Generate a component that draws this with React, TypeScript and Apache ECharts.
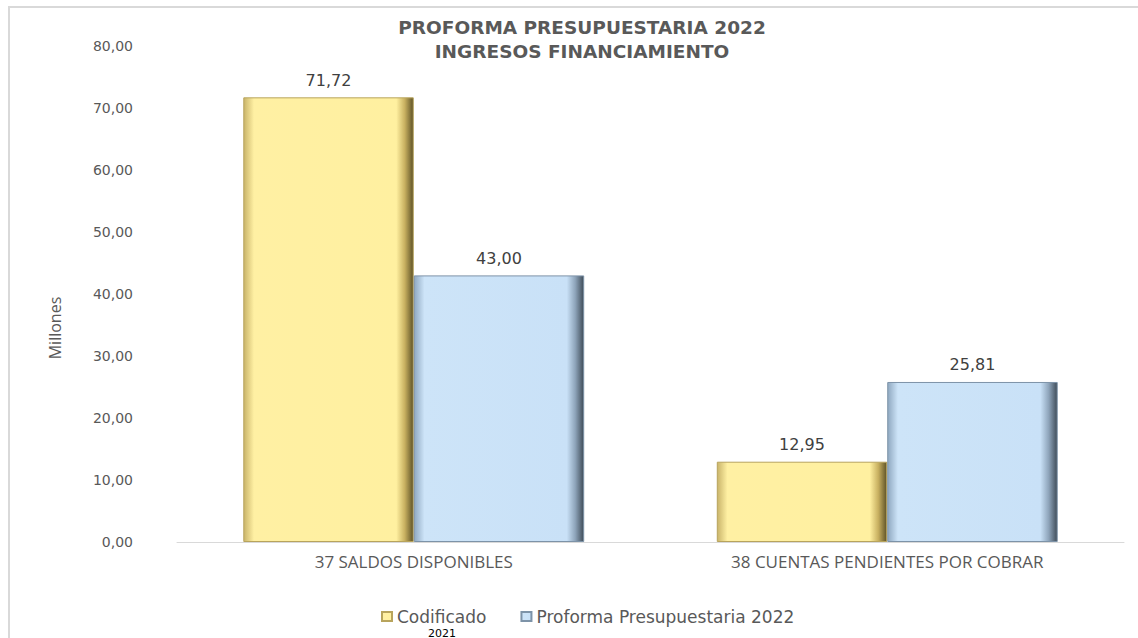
import React, { useEffect, useRef } from "react";
import * as echarts from "echarts";

const categories = ["37 SALDOS DISPONIBLES", "38 CUENTAS PENDIENTES POR COBRAR"];
const codificado = [71.72, 12.95];
const proforma = [43.0, 25.81];
const seriesNames = ["Codificado", "Proforma Presupuestaria 2022"];
const titleLines = ["PROFORMA PRESUPUESTARIA 2022", "INGRESOS FINANCIAMIENTO"];
const yAxisName = "Millones";
const legendNote = "2021";

const fmt = (v: number) => v.toFixed(2).replace(".", ",");

const yellowGrad = new echarts.graphic.LinearGradient(0, 0, 1, 0, [
  { offset: 0, color: "#c9b46a" },
  { offset: 0.06, color: "#fff0a3" },
  { offset: 0.9, color: "#fff0a0" },
  { offset: 0.95, color: "#c8b060" },
  { offset: 1, color: "#5e5226" },
]);
const blueGrad = new echarts.graphic.LinearGradient(0, 0, 1, 0, [
  { offset: 0, color: "#8fa8c0" },
  { offset: 0.06, color: "#cde4f8" },
  { offset: 0.9, color: "#c9e1f7" },
  { offset: 0.95, color: "#8ea4ba" },
  { offset: 1, color: "#3f4c58" },
]);

export default function App() {
  const ref = useRef<HTMLDivElement>(null);
  useEffect(() => {
    if (!ref.current) return;
    const chart = echarts.init(ref.current, null, { renderer: "svg" });
    const labelStyle = {
      show: true,
      position: "top",
      distance: 9,
      formatter: (p: any) => fmt(p.value),
      fontFamily: "DejaVu Sans",
      fontSize: 16,
      color: "#404040",
    };
    chart.setOption({
      animation: false,
      backgroundColor: "#ffffff",
      graphic: [
        {
          type: "rect",
          shape: { x: 9, y: 7, width: 1200, height: 700 },
          style: { fill: "none", stroke: "#d9d9d9", lineWidth: 2 },
          silent: true,
        },
        {
          type: "text",
          x: 442,
          y: 633,
          style: {
            text: legendNote,
            fill: "#000000",
            font: "11px 'DejaVu Sans'",
            textAlign: "center",
            textVerticalAlign: "middle",
          },
        },
        {
          type: "text",
          x: 55,
          y: 328,
          rotation: Math.PI / 2,
          style: {
            text: yAxisName,
            fill: "#595959",
            font: "16px 'Open Sans'",
            textAlign: "center",
            textVerticalAlign: "middle",
          },
        },
      ],
      title: {
        text: titleLines.join("\n"),
        left: 577,
        textAlign: "center",
        top: 10,
        textStyle: {
          fontFamily: "DejaVu Sans",
          fontWeight: "bold",
          fontSize: 18.5,
          lineHeight: 24,
          color: "#595959",
        },
      },
      legend: {
        data: seriesNames,
        left: 376,
        top: 603,
        itemWidth: 10,
        itemHeight: 9,
        itemGap: 34,
        icon: "rect",
        textStyle: { fontFamily: "DejaVu Sans", fontSize: 17, color: "#595959" },
      },
      grid: { left: 177, right: 14, top: 46, bottom: 96, containLabel: false },
      xAxis: {
        type: "category",
        data: categories,
        axisLine: { lineStyle: { color: "#d9d9d9", width: 1 } },
        axisTick: { show: false },
        axisLabel: {
          fontFamily: "Open Sans",
          fontSize: 17,
          color: "#595959",
          margin: 11,
        },
      },
      yAxis: {
        type: "value",
        min: 0,
        max: 80,
        interval: 10,
        splitLine: { show: false },
        axisLine: { show: false },
        axisTick: { show: false },
        axisLabel: {
          formatter: (v: number) => fmt(v),
          fontFamily: "DejaVu Sans",
          fontSize: 14,
          color: "#595959",
          margin: 44,
        },
      },
      series: [
        {
          name: seriesNames[0],
          type: "bar",
          data: codificado,
          barGap: "0%",
          barCategoryGap: "28%",
          itemStyle: { color: yellowGrad, borderColor: "#b8a45c", borderWidth: 1 },
          label: labelStyle,
        },
        {
          name: seriesNames[1],
          type: "bar",
          data: proforma,
          itemStyle: { color: blueGrad, borderColor: "#7d93a8", borderWidth: 1 },
          label: labelStyle,
        },
      ],
    });
    return () => chart.dispose();
  }, []);
  return (
    <div
      ref={ref}
      style={{ position: "fixed", left: 0, top: 0, width: 1138, height: 638 }}
    />
  );
}
